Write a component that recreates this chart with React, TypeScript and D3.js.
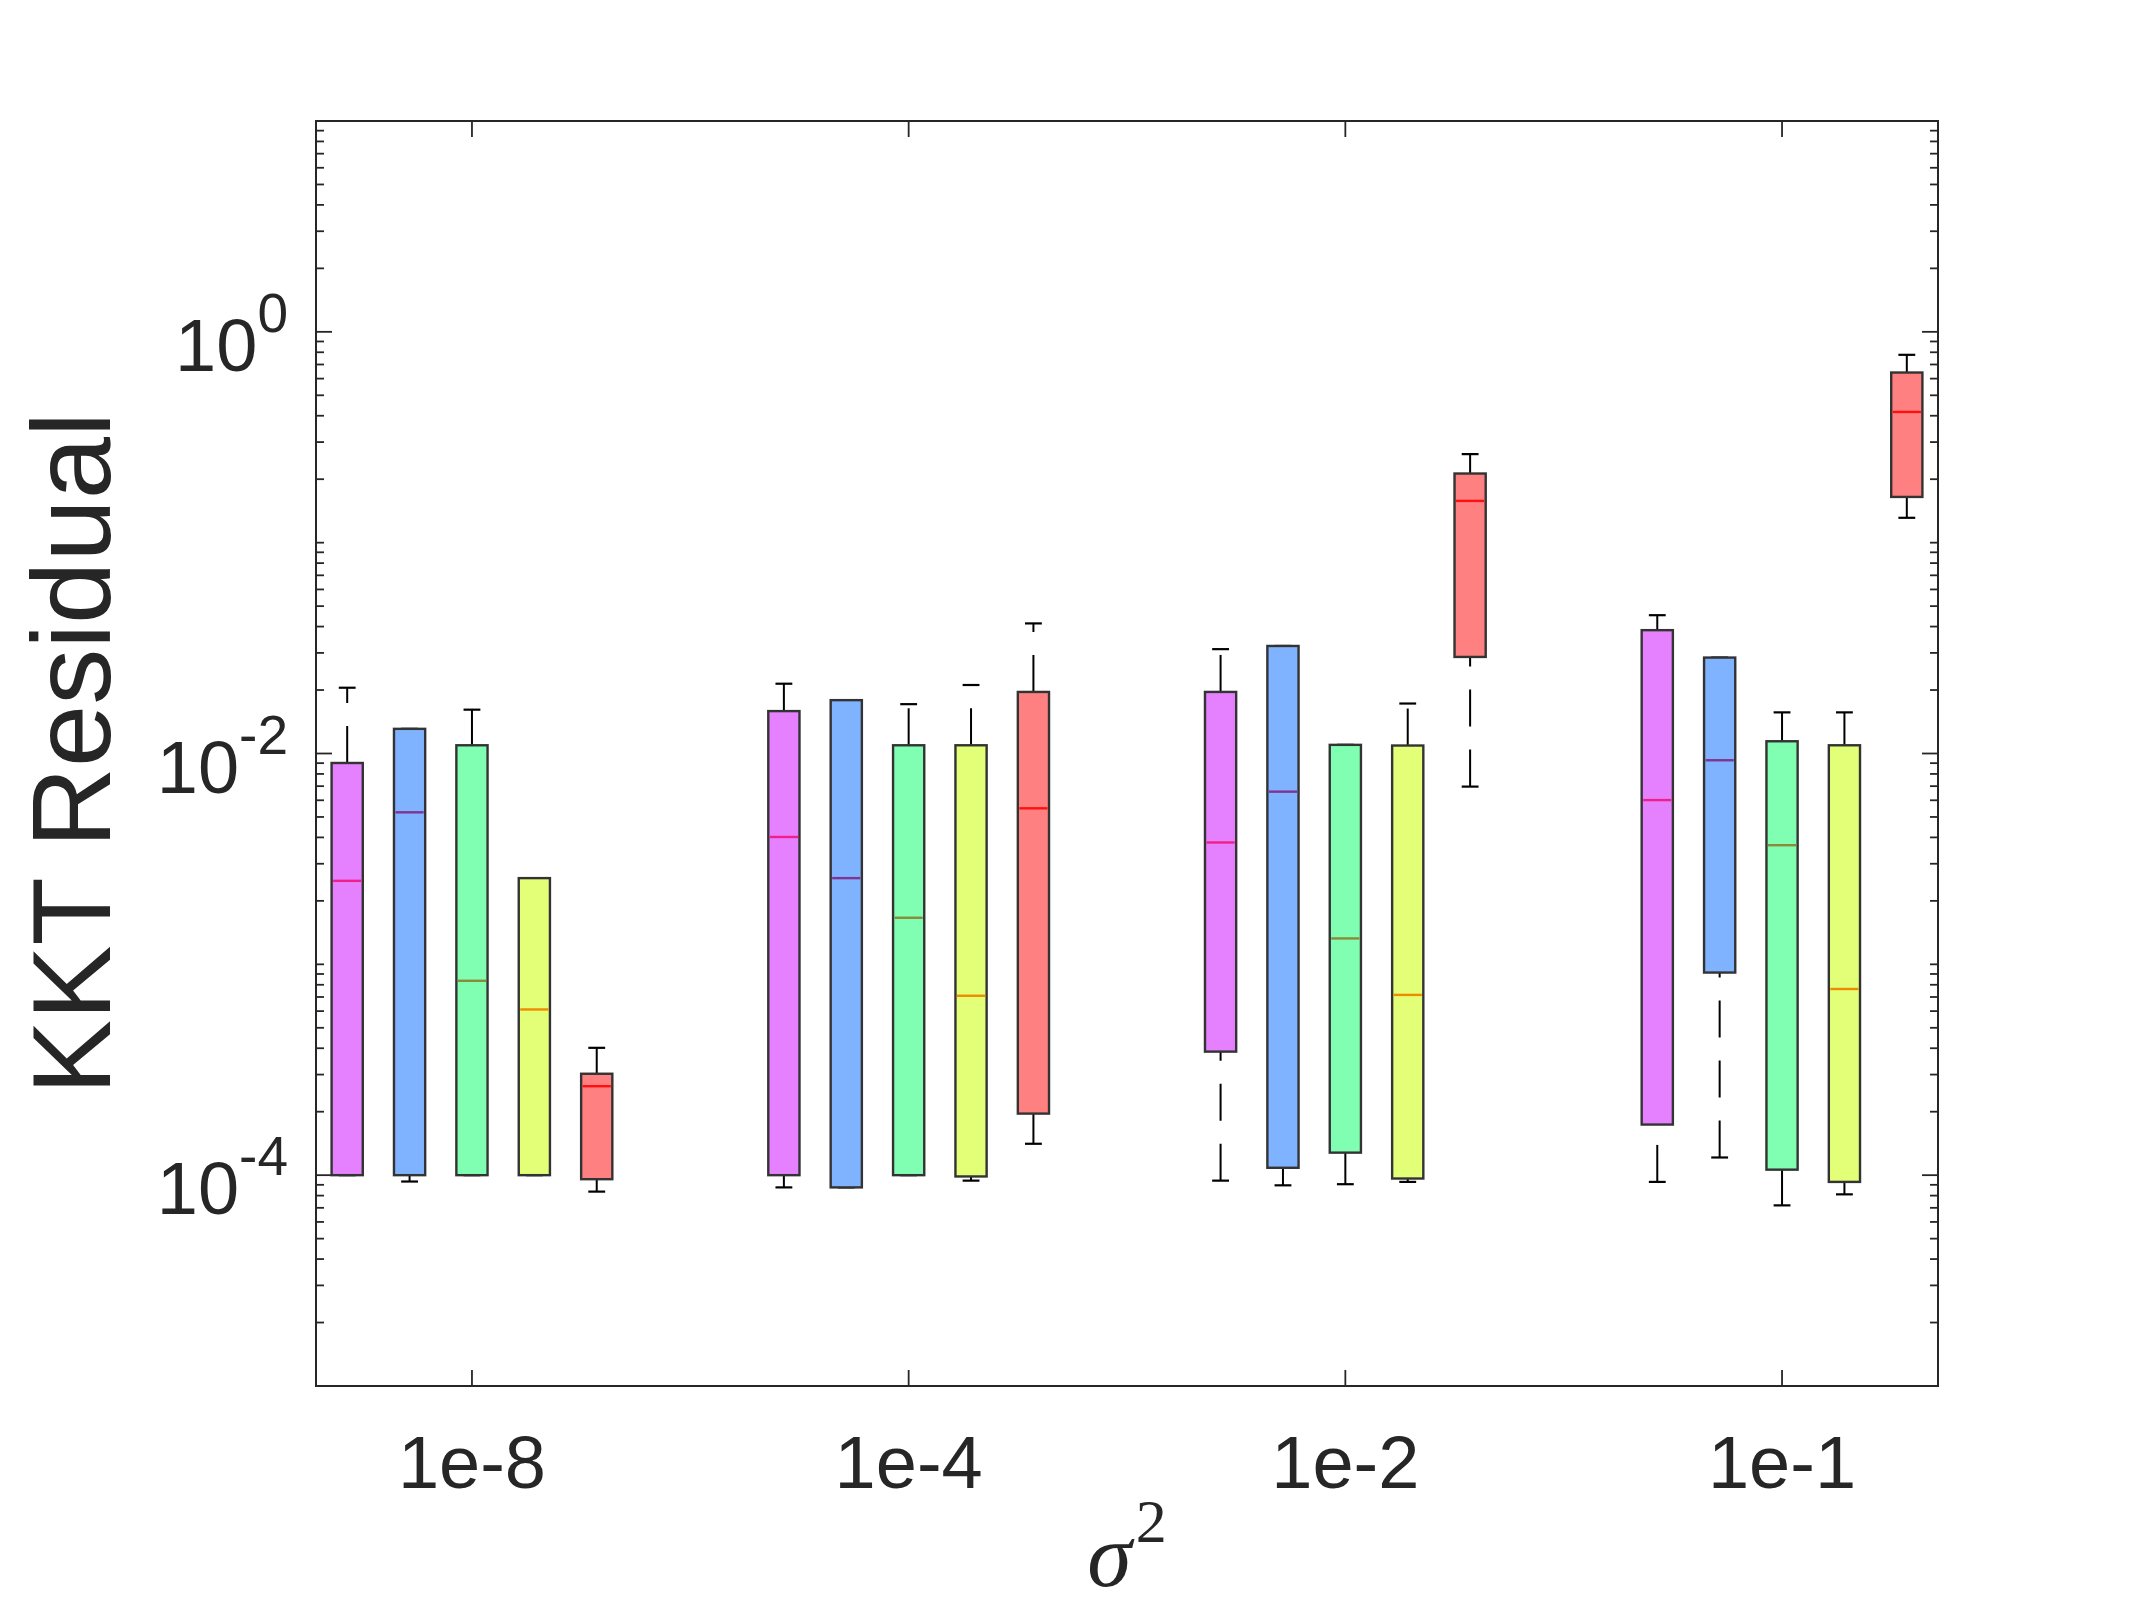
import { useRef, useEffect } from 'react';
import * as d3 from 'd3';

const W = 2145;
const H = 1617;
const M = { top: 121, right: 207, bottom: 231, left: 316 };

const groups = ['1e-8', '1e-4', '1e-2', '1e-1'];

// one row per group: [lower whisker, q1, median, q3, upper whisker]
const magenta = [
  [1.0e-4, 1.0e-4, 0.002489, 0.009016, 0.02051],
  [8.75e-5, 1.0e-4, 0.004018, 0.01589, 0.02143],
  [9.42e-5, 0.0003855, 0.003784, 0.01959, 0.03126],
  [9.29e-5, 0.0001738, 0.006012, 0.03846, 0.04529],
];
const blue = [
  [9.33e-5, 1.0e-4, 0.00526, 0.01309, 0.01309],
  [8.75e-5, 8.75e-5, 0.002564, 0.01791, 0.01791],
  [8.95e-5, 0.0001084, 0.006592, 0.03236, 0.03236],
  [0.0001213, 0.0009141, 0.00929, 0.02851, 0.02851],
];
const green = [
  [1.0e-4, 1.0e-4, 0.0008356, 0.01094, 0.01614],
  [1.0e-4, 1.0e-4, 0.001663, 0.01094, 0.01714],
  [9.06e-5, 0.0001279, 0.001327, 0.01099, 0.01099],
  [7.19e-5, 0.0001062, 0.003673, 0.01143, 0.01567],
];
const yellow = [
  [1.0e-4, 1.0e-4, 0.0006109, 0.002564, 0.002564],
  [9.42e-5, 9.86e-5, 0.0007096, 0.01094, 0.02113],
  [9.29e-5, 9.64e-5, 0.0007161, 0.01091, 0.01726],
  [8.11e-5, 9.29e-5, 0.0007638, 0.01094, 0.01567],
];
const red = [
  [8.356e-5, 9.57e-5, 0.0002642, 0.0003027, 0.0004018],
  [0.0001409, 0.0001959, 0.005495, 0.01959, 0.0414],
  [0.006966, 0.02871, 0.1578, 0.2128, 0.263],
  [0.1312, 0.1648, 0.4169, 0.6412, 0.778],
];

const series = [magenta, blue, green, yellow, red];
const fills = ['#e580ff', '#80b3ff', '#80ffb2', '#e3ff78', '#ff8080'];
const medianColors = ['#f0208a', '#803390', '#8a8a3a', '#f08a00', '#ff1010'];

const yMajor = [1e-4, 1e-2, 1];
const yMajorExp = ['-4', '-2', '0'];

const AXIS = '#262626';
const FONT = '"Liberation Sans", Arial, Helvetica, sans-serif';

export default function App() {
  const svgRef = useRef<SVGSVGElement>(null);

  useEffect(() => {
    const svg = d3.select(svgRef.current);
    svg.selectAll('*').remove();

    const x0 = M.left;
    const x1 = W - M.right;
    const y0 = M.top;
    const y1 = H - M.bottom;

    const x = d3.scaleLinear().domain([-0.5, 25.5]).range([x0, x1]);
    const y = d3.scaleLog().domain([1e-5, 10]).range([y1, y0]);
    const unit = x(1) - x(0);
    const bw = unit * 0.5;
    const capW = unit * 0.27;

    svg.append('rect').attr('width', W).attr('height', H).attr('fill', '#ffffff');

    // minor y ticks (both sides, inward)
    const minor: number[] = [];
    for (let d = -5; d <= 0; d++) {
      for (let k = 1; k <= 9; k++) {
        const v = k * Math.pow(10, d);
        if (!yMajor.some((m) => Math.abs(m - v) / m < 1e-9)) minor.push(v);
      }
    }
    minor.forEach((v) => {
      const yy = y(v);
      svg.append('line').attr('x1', x0).attr('x2', x0 + 8).attr('y1', yy).attr('y2', yy)
        .attr('stroke', AXIS).attr('stroke-width', 1.8);
      svg.append('line').attr('x1', x1).attr('x2', x1 - 8).attr('y1', yy).attr('y2', yy)
        .attr('stroke', AXIS).attr('stroke-width', 1.8);
    });

    // major y ticks + labels
    yMajor.forEach((v, i) => {
      const yy = y(v);
      svg.append('line').attr('x1', x0).attr('x2', x0 + 16).attr('y1', yy).attr('y2', yy)
        .attr('stroke', AXIS).attr('stroke-width', 1.8);
      svg.append('line').attr('x1', x1).attr('x2', x1 - 16).attr('y1', yy).attr('y2', yy)
        .attr('stroke', AXIS).attr('stroke-width', 1.8);
      const t = svg.append('text')
        .attr('x', 288)
        .attr('y', yy + 39)
        .attr('text-anchor', 'end')
        .attr('fill', AXIS)
        .attr('font-family', FONT)
        .attr('font-size', 74);
      t.append('tspan').text('10');
      t.append('tspan').attr('dy', -39).attr('font-size', 55).text(yMajorExp[i]);
    });

    // x ticks + labels
    groups.forEach((g, gi) => {
      const xx = x(gi * 7 + 2);
      svg.append('line').attr('x1', xx).attr('x2', xx).attr('y1', y1).attr('y2', y1 - 16)
        .attr('stroke', AXIS).attr('stroke-width', 1.8);
      svg.append('line').attr('x1', xx).attr('x2', xx).attr('y1', y0).attr('y2', y0 + 16)
        .attr('stroke', AXIS).attr('stroke-width', 1.8);
      svg.append('text')
        .attr('x', xx)
        .attr('y', 1488)
        .attr('text-anchor', 'middle')
        .attr('fill', AXIS)
        .attr('font-family', FONT)
        .attr('font-size', 74)
        .text(g);
    });

    // boxes
    series.forEach((stats, si) => {
      stats.forEach((s, gi) => {
        const [lw, q1, med, q3, uw] = s;
        const cx = x(gi * 7 + si);

        // whiskers are dashed, pattern starting from the lower end
        if (uw > q3) {
          svg.append('line').attr('x1', cx).attr('x2', cx).attr('y1', y(q3)).attr('y2', y(uw))
            .attr('stroke', '#000').attr('stroke-width', 2).attr('stroke-dasharray', '37,23');
        }
        if (lw < q1) {
          svg.append('line').attr('x1', cx).attr('x2', cx).attr('y1', y(lw)).attr('y2', y(q1))
            .attr('stroke', '#000').attr('stroke-width', 2).attr('stroke-dasharray', '37,23');
        }
        [lw, uw].forEach((v) => {
          svg.append('line')
            .attr('x1', cx - capW / 2).attr('x2', cx + capW / 2)
            .attr('y1', y(v)).attr('y2', y(v))
            .attr('stroke', '#000').attr('stroke-width', 2.2);
        });

        svg.append('rect')
          .attr('x', cx - bw / 2)
          .attr('y', y(q3))
          .attr('width', bw)
          .attr('height', y(q1) - y(q3))
          .attr('fill', fills[si])
          .attr('stroke', '#333')
          .attr('stroke-width', 2.4);

        svg.append('line')
          .attr('x1', cx - bw / 2 + 1.5).attr('x2', cx + bw / 2 - 1.5)
          .attr('y1', y(med)).attr('y2', y(med))
          .attr('stroke', medianColors[si]).attr('stroke-width', 2.4);
      });
    });

    // axes box
    svg.append('rect')
      .attr('x', x0).attr('y', y0)
      .attr('width', x1 - x0).attr('height', y1 - y0)
      .attr('fill', 'none').attr('stroke', AXIS).attr('stroke-width', 2);

    // axis labels
    svg.append('text')
      .attr('transform', `translate(110,${(y0 + y1) / 2}) rotate(-90)`)
      .attr('text-anchor', 'middle')
      .attr('fill', AXIS)
      .attr('font-family', FONT)
      .attr('font-size', 112)
      .text('KKT Residual');

    const xl = svg.append('text')
      .attr('x', (x0 + x1) / 2)
      .attr('y', 1586)
      .attr('text-anchor', 'middle')
      .attr('fill', AXIS)
      .attr('font-family', '"Liberation Serif", "DejaVu Serif", serif')
      .attr('font-size', 90);
    xl.append('tspan').attr('font-style', 'italic').text('σ');
    xl.append('tspan').attr('dx', 4).attr('dy', -44).attr('font-size', 62).text('2');
  }, []);

  return (
    <svg
      ref={svgRef}
      width={W}
      height={H}
      style={{ position: 'absolute', left: 0, top: 0 }}
    />
  );
}
